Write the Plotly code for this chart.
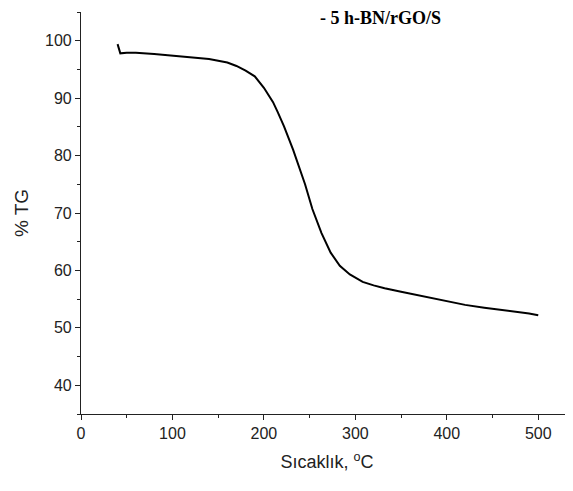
import plotly.graph_objects as go

temperature = [40, 42, 43, 50, 60, 80, 100, 120, 140, 160, 170, 180, 190, 200, 205, 210, 215,
               222, 232, 241, 245, 253, 263, 273, 283, 294, 308, 320, 332, 350, 368, 385,
               405, 420, 441, 460, 478, 490, 500]
tg_percent = [99.4, 98.5, 97.8, 97.9, 97.9, 97.7, 97.4, 97.2, 96.8, 96.2, 95.6, 94.8, 93.8, 91.8,
              90.6, 89.3, 87.6, 85.1, 81.0, 77.0, 75.0, 70.7, 66.5, 63.1, 60.8, 59.3, 58.0,
              57.4, 56.9, 56.3, 55.7, 55.1, 54.5, 54.0, 53.5, 53.1, 52.8, 52.5, 52.2]
x_ticks = [0, 100, 200, 300, 400, 500]
y_ticks = [40, 50, 60, 70, 80, 90, 100]
series_label = "- 5 h-BN/rGO/S"

fig = go.Figure()
fig.add_trace(go.Scatter(x=temperature, y=tg_percent, mode="lines",
                         line=dict(color="black", width=2), showlegend=False))

axis_font = dict(family="Liberation Sans, Arial", size=16, color="#222")
fig.update_layout(
    width=573, height=491,
    margin=dict(l=73, r=8, t=4, b=85),
    paper_bgcolor="white", plot_bgcolor="white",
    xaxis=dict(range=[0, 538], tickvals=x_ticks, ticks="outside", ticklen=5, tickwidth=1,
               tickcolor="#222", showline=True, linecolor="#222", linewidth=1.2,
               showgrid=False, zeroline=False, tickfont=axis_font, automargin=False,
               minor=dict(dtick=50, ticks="outside", ticklen=3, tickcolor="#222"),
               title=dict(text="Sıcaklık, <sup>o</sup>C", standoff=14,
                          font=dict(family="Liberation Sans, Arial", size=18, color="#222"))),
    yaxis=dict(range=[35, 105], tickvals=y_ticks, ticks="outside", ticklen=5, tickwidth=1,
               tickcolor="#222", showline=True, linecolor="#222", linewidth=1.2,
               showgrid=False, zeroline=False, tickfont=axis_font, automargin=False,
               minor=dict(dtick=5, ticks="outside", ticklen=3, tickcolor="#222"),
               title=dict(text="% TG", standoff=11,
                          font=dict(family="Liberation Sans, Arial", size=19, color="#222"))),
    annotations=[dict(text="<b>" + series_label + "</b>", xref="paper", yref="paper",
                      x=0.608, y=0.9863, xanchor="center", yanchor="middle",
                      height=19, showarrow=False, borderpad=0,
                      font=dict(family="Liberation Serif, Times New Roman", size=18, color="black"))],
)

fig.write_html("out.html")
